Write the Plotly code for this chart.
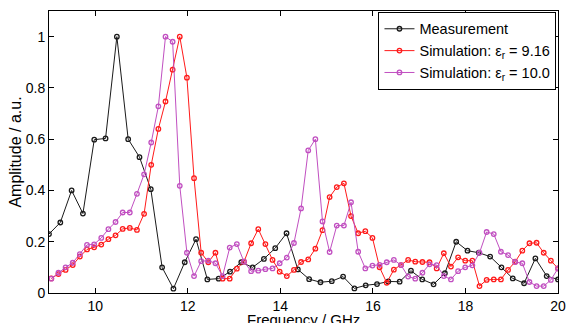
import numpy as np
import plotly.graph_objects as go

# Measurement: 46 points 9..20 GHz
meas_freq = np.linspace(9.0, 20.0, 46)
meas_amp = [0.23, 0.275, 0.40, 0.31, 0.598, 0.603, 1.0, 0.60, 0.53, 0.405,
            0.10, 0.017, 0.12, 0.21, 0.053, 0.056, 0.083, 0.12, 0.10, 0.133,
            0.175, 0.233, 0.092, 0.054, 0.042, 0.046, 0.064, 0.018, 0.03, 0.035,
            0.045, 0.044, 0.087, 0.053, 0.034, 0.077, 0.20, 0.165, 0.157, 0.142,
            0.10, 0.057, 0.038, 0.135, 0.066, 0.053]

# Simulations: 72 points
sim_freq = np.linspace(9.05, 20.0, 72)
sim_916 = [0.057, 0.074, 0.09, 0.109, 0.142, 0.17, 0.178, 0.189, 0.21, 0.225,
           0.25, 0.254, 0.246, 0.309, 0.50, 0.64, 0.747, 0.871, 1.0, 0.84,
           0.448, 0.157, 0.12, 0.157, 0.056, 0.056, 0.095, 0.122, 0.194, 0.249,
           0.191, 0.129, 0.083, 0.066, 0.09, 0.121, 0.131, 0.173, 0.245, 0.374,
           0.413, 0.428, 0.30, 0.233, 0.241, 0.215, 0.10, 0.04, 0.091, 0.109,
           0.129, 0.122, 0.121, 0.12, 0.096, 0.155, 0.103, 0.139, 0.126, 0.126,
           0.027, 0.051, 0.053, 0.053, 0.09, 0.122, 0.165, 0.194, 0.196, 0.157,
           0.126, 0.096]
sim_100 = [0.056, 0.079, 0.10, 0.118, 0.152, 0.1875, 0.19, 0.215, 0.249, 0.277,
           0.314, 0.314, 0.387, 0.463, 0.587, 0.728, 1.0, 0.98, 0.418, 0.157,
           0.066, 0.124, 0.126, 0.116, 0.066, 0.177, 0.191, 0.122, 0.085, 0.087,
           0.093, 0.096, 0.116, 0.138, 0.195, 0.33, 0.556, 0.60, 0.279, 0.16,
           0.263, 0.263, 0.354, 0.161, 0.096, 0.107, 0.11, 0.12, 0.129, 0.109,
           0.064, 0.056, 0.079, 0.112, 0.109, 0.066, 0.053, 0.085, 0.10, 0.108,
           0.157, 0.238, 0.23, 0.161, 0.148, 0.121, 0.116, 0.043, 0.027, 0.027,
           0.051, 0.096]

x_ticks = [10, 12, 14, 16, 18, 20]
y_ticks = [0, 0.2, 0.4, 0.6, 0.8, 1]
y_ticklabels = ["0", "0.2", "0.4", "0.6", "0.8", "1"]

FONT = "Liberation Sans, Arial, Helvetica, sans-serif"

fig = go.Figure()
series = [
    ("Measurement", meas_freq, meas_amp, "#1a1a1a"),
    ("Simulation: ε<sub>r</sub> = 9.16", sim_freq, sim_916, "#ff1a1a"),
    ("Simulation: ε<sub>r</sub> = 10.0", sim_freq, sim_100, "#c14fc1"),
]
for name, fx, fy, col in series:
    fig.add_trace(go.Scatter(
        x=fx, y=fy, name=name, mode="lines+markers",
        line=dict(color=col, width=1),
        marker=dict(symbol="circle-open", size=4.5, color=col, line=dict(width=1.3, color=col)),
    ))

fig.update_layout(
    width=566, height=323,
    margin=dict(l=49, r=8, t=11, b=30),
    paper_bgcolor="white", plot_bgcolor="white",
    font=dict(family=FONT, size=14, color="black"),
    showlegend=True,
    legend=dict(
        x=0.997, y=0.997, xanchor="right", yanchor="top",
        bgcolor="white", bordercolor="black", borderwidth=1,
        font=dict(size=14.5, family=FONT), itemwidth=30,
        tracegroupgap=0,
    ),
    annotations=[dict(
        text="Frequency / GHz", xref="paper", yref="paper", x=0.5, y=0,
        xanchor="center", yanchor="top", yshift=-17, showarrow=False,
        font=dict(size=15, family=FONT), borderpad=0,
    )],
)
fig.update_xaxes(
    range=[9, 20], tickvals=x_ticks, ticktext=[str(v) for v in x_ticks],
    ticks="inside", ticklen=5, tickcolor="black", showline=True, linecolor="black",
    linewidth=1, mirror="ticks", showgrid=False, zeroline=False, automargin=False,
    tickfont=dict(size=14),
)
fig.update_yaxes(
    range=[0, 1.1], tickvals=y_ticks, ticktext=y_ticklabels,
    ticks="inside", ticklen=5, tickcolor="black", showline=True, linecolor="black",
    linewidth=1, mirror="ticks", showgrid=False, zeroline=False, automargin=False,
    title=dict(text="Amplitude / a.u.", standoff=0, font=dict(size=16)),
    tickfont=dict(size=14),
)

fig.write_html("out.html", config={"displayModeBar": False},
               post_script="document.body.style.margin='0';")
